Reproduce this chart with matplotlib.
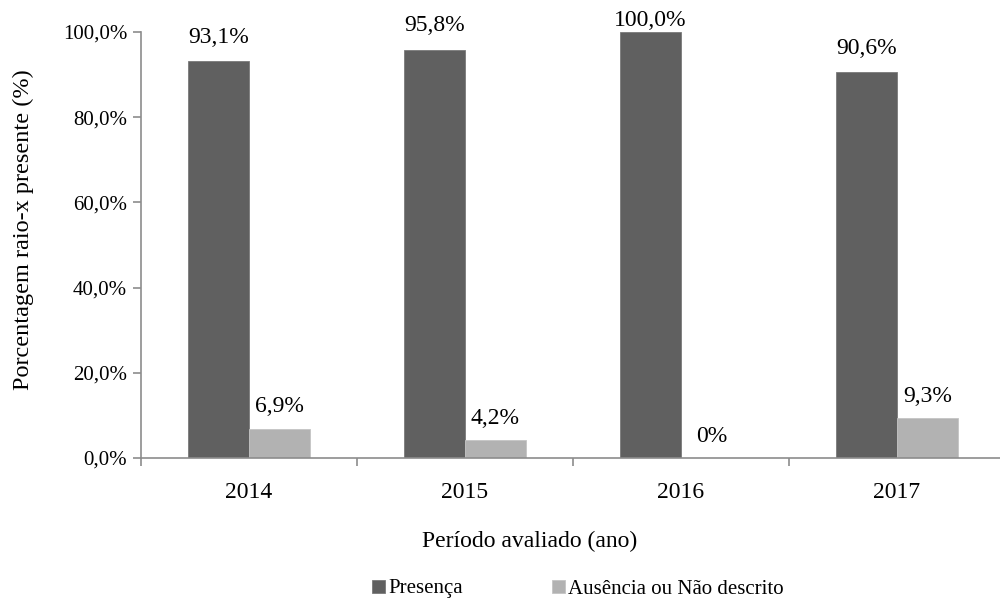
import matplotlib
matplotlib.use("Agg")
import matplotlib.pyplot as plt
import numpy as np

anos = ["2014", "2015", "2016", "2017"]
presenca = [93.1, 95.8, 100.0, 90.6]
ausencia = [6.9, 4.2, 0.0, 9.3]
rotulos_presenca = ["93,1%", "95,8%", "100,0%", "90,6%"]
rotulos_ausencia = ["6,9%", "4,2%", "0%", "9,3%"]
yticks = [0, 20, 40, 60, 80, 100]
ytick_labels = ["0,0%", "20,0%", "40,0%", "60,0%", "80,0%", "100,0%"]

plt.rcParams["font.family"] = ["Liberation Serif", "DejaVu Serif"]
FS_TICK = 15
FS = 17
AXC = "#8c8c8c"
DARK = "#606060"
LIGHT = "#b2b2b2"

fig = plt.figure(figsize=(10, 5.99), dpi=100)
W, H = 1000, 599
x0, x1 = 141, 1005
y0, y1 = 458, 32
ax = fig.add_axes([x0 / W, 1 - y0 / H, (x1 - x0) / W, (y0 - y1) / H])

centers = np.arange(len(anos)) + 0.5
bw = 61 / 216
b1 = ax.bar(centers - bw / 2, presenca, bw, color=DARK, edgecolor="#7a7a7a",
            linewidth=0.6, label="Presença")
b2 = ax.bar(centers + bw / 2, ausencia, bw, color=LIGHT, edgecolor="#c4c4c4",
            linewidth=0.6, label="Ausência ou Não descrito")

for c, v, t in zip(centers, presenca, rotulos_presenca):
    off = 12 if v >= 99.5 else 24
    ax.annotate(t, (c - bw / 2, v), xytext=(0, off), textcoords="offset pixels",
                ha="center", va="center", fontsize=FS)
for c, v, t in zip(centers, ausencia, rotulos_ausencia):
    ax.annotate(t, (c + bw / 2, v), xytext=(0, 22), textcoords="offset pixels",
                ha="center", va="center", fontsize=FS)

ax.set_xlim(0, 4)
ax.set_ylim(0, 100)
ax.set_yticks(yticks)
ax.set_yticklabels(ytick_labels, fontsize=FS_TICK)
ax.set_xticks([0, 1, 2, 3, 4])
ax.set_xticklabels([])
ax.set_xticks(centers, minor=True)
ax.set_xticklabels(anos, minor=True, fontsize=FS)
ax.tick_params(axis="x", which="minor", length=0, pad=17)
ax.tick_params(axis="x", which="major", length=6, width=1.2, color=AXC, direction="out")
ax.tick_params(axis="y", length=6, width=1.2, color=AXC, direction="out", pad=4)

for s in ["top", "right"]:
    ax.spines[s].set_visible(False)
for s in ["left", "bottom"]:
    ax.spines[s].set_color(AXC)
    ax.spines[s].set_linewidth(1.2)

fig.text(23 / W, 1 - 230 / H, "Porcentagem raio-x presente (%)", rotation=90,
         ha="center", va="center", fontsize=FS + 0.5)
fig.text(530 / W, 1 - 541 / H, "Período avaliado (ano)", ha="center", va="center",
         fontsize=FS)

fig.legend(handles=[b1, b2], loc="center", bbox_to_anchor=(578 / W, 1 - 589 / H),
           ncol=2, frameon=False, fontsize=15, handlelength=0.6,
           handleheight=0.6, handletextpad=0.15, columnspacing=4.3)

fig.savefig("out.png", dpi=100)
